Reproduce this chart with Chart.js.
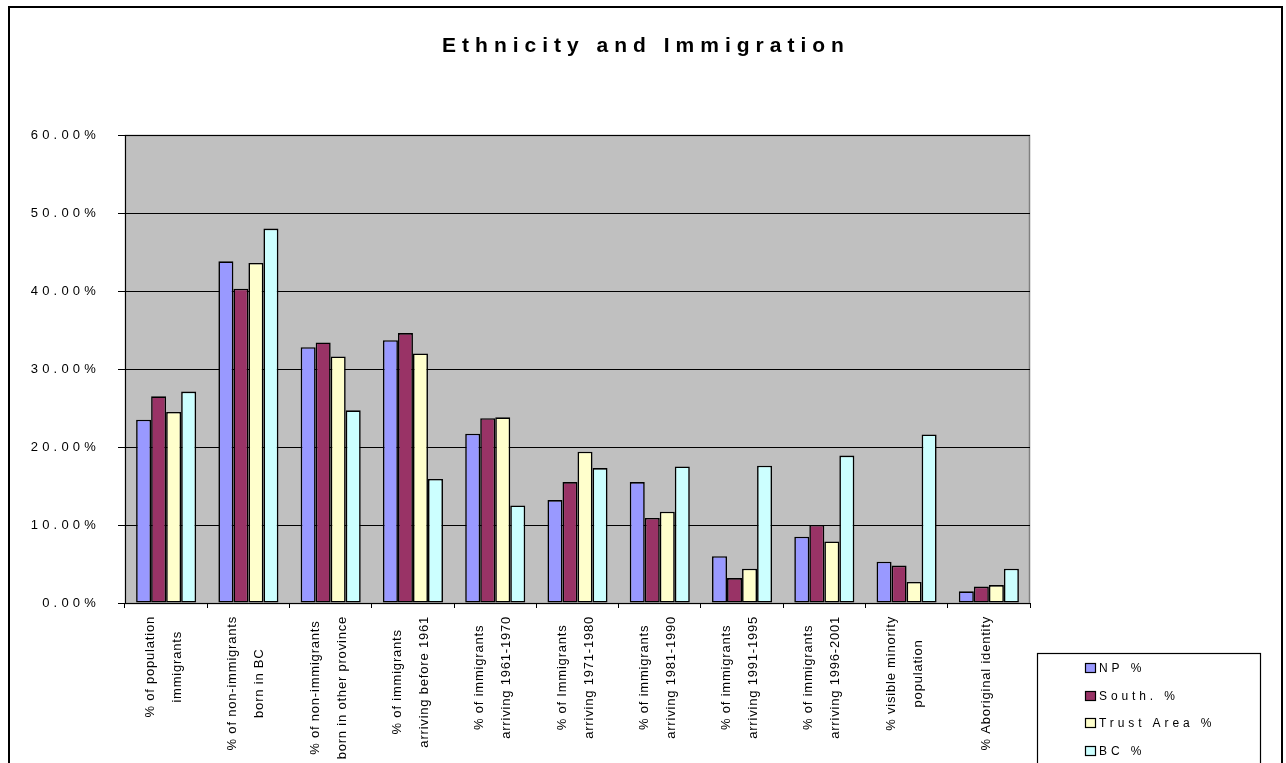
<!DOCTYPE html>
<html>
<head>
<meta charset="utf-8">
<title>Ethnicity and Immigration</title>
<script src="https://cdn.jsdelivr.net/npm/chart.js@4.4.1/dist/chart.umd.min.js"></script>
<style>
  html, body { margin: 0; padding: 0; background: #ffffff; }
  #wrap { width: 1286px; height: 763px; position: relative; }
</style>
</head>
<body>
<div id="wrap"><canvas id="chart"></canvas></div>
<script>
// ---- data ----
const chartTitle = 'Ethnicity and Immigration';

const categories = [
  ['% of population', 'immigrants'],
  ['% of non-immigrants', 'born in BC'],
  ['% of non-immigrants', 'born in other province'],
  ['% of immigrants', 'arriving before 1961'],
  ['% of immigrants', 'arriving 1961-1970'],
  ['% of Immigrants', 'arriving 1971-1980'],
  ['% of immigrants', 'arriving 1981-1990'],
  ['% of immigrants', 'arriving 1991-1995'],
  ['% of immigrants', 'arriving 1996-2001'],
  ['% visible minority', 'population'],
  ['% Aboriginal identity']
];

const seriesNames = ['NP %', 'South. %', 'Trust Area %', 'BC %'];

const npValues    = [23.5, 43.8, 32.8, 33.7, 21.7, 13.2, 15.5,  6.0,  8.5,  5.3, 1.5];
const southValues = [26.5, 40.3, 33.4, 34.6, 23.7, 15.5, 10.9,  3.2, 10.0,  4.8, 2.1];
const trustValues = [24.5, 43.6, 31.6, 32.0, 23.8, 19.4, 11.7,  4.4,  7.9,  2.7, 2.3];
const bcValues    = [27.1, 48.0, 24.7, 15.9, 12.5, 17.3, 17.5, 17.6, 18.9, 21.6, 4.4];

const yTickLabels = ['0.00%', '10.00%', '20.00%', '30.00%', '40.00%', '50.00%', '60.00%'];

// ---- styling ----
const FONT = "'Liberation Sans', Arial, Helvetica, sans-serif";
const seriesColors = ['#9999ff', '#993366', '#ffffcc', '#ccffff'];

// Background, frame, title, rotated category labels and the legend box
const chartDecor = {
  id: 'chartDecor',
  beforeDraw(chart) {
    const { ctx, chartArea: a } = chart;
    ctx.save();
    ctx.fillStyle = '#ffffff';
    ctx.fillRect(0, 0, chart.width, chart.height);
    ctx.fillStyle = '#c0c0c0';
    ctx.fillRect(a.left, a.top, a.right - a.left, a.bottom - a.top);
    ctx.strokeStyle = '#808080';
    ctx.lineWidth = 1.5;
    ctx.strokeRect(a.left + 0.5, a.top + 0.5, a.right - a.left - 1, a.bottom - a.top);
    ctx.restore();
    // spacing used by the value-axis labels
    ctx.letterSpacing = '4.2px';
  },
  afterDraw(chart) {
    const ctx = chart.ctx;
    ctx.save();

    // outer frame
    ctx.strokeStyle = '#000000';
    ctx.lineWidth = 2;
    ctx.strokeRect(9, 7, 1273, 800);

    // title
    ctx.fillStyle = '#000000';
    ctx.font = 'bold 21px ' + FONT;
    ctx.letterSpacing = '6px';
    ctx.textAlign = 'left';
    ctx.textBaseline = 'alphabetic';
    const tw = ctx.measureText(chartTitle).width - 6;
    ctx.fillText(chartTitle, chart.width / 2 - tw / 2, 52);

    // category labels, rotated, lines centred on each other
    const xs = chart.scales.x;
    ctx.font = '13px ' + FONT;
    ctx.letterSpacing = '0.8px';
    ctx.textAlign = 'center';
    ctx.textBaseline = 'middle';
    categories.forEach((lab, i) => {
      const lines = Array.isArray(lab) ? lab : [lab];
      const cx = xs.getPixelForValue(i) - 2;
      const maxW = Math.max(...lines.map(l => ctx.measureText(l).width));
      ctx.save();
      ctx.translate(cx, 616);
      ctx.rotate(-Math.PI / 2);
      lines.forEach((l, j) => {
        ctx.fillText(l, -maxW / 2, (j - (lines.length - 1) / 2) * 27);
      });
      ctx.restore();
    });

    // legend
    ctx.lineWidth = 1.2;
    ctx.strokeStyle = '#000000';
    ctx.strokeRect(1037.5, 653.5, 223, 200);
    ctx.font = '12px ' + FONT;
    ctx.letterSpacing = '3.9px';
    ctx.textAlign = 'left';
    ctx.textBaseline = 'middle';
    chart.data.datasets.forEach((ds, i) => {
      const y = Math.round(668 + i * 27.7);
      ctx.fillStyle = ds.backgroundColor;
      ctx.fillRect(1085.5, y - 4.5, 10, 9);
      ctx.strokeRect(1085.5, y - 4.5, 10, 9);
      ctx.fillStyle = '#000000';
      ctx.fillText(ds.label, 1099, y + 0.5);
    });

    ctx.restore();
  }
};

const valueLists = [npValues, southValues, trustValues, bcValues];

new Chart(document.getElementById('chart'), {
  type: 'bar',
  data: {
    labels: categories,
    datasets: seriesNames.map((name, i) => ({
      label: name,
      data: valueLists[i],
      backgroundColor: seriesColors[i],
      borderColor: '#000000',
      borderWidth: 1.6,
      borderSkipped: false,
      categoryPercentage: 0.73,
      barPercentage: 1.0
    }))
  },
  options: {
    responsive: true,
    maintainAspectRatio: false,
    animation: false,
    layout: { padding: { top: 135, right: 256, bottom: 0, left: 0 } },
    plugins: {
      legend: { display: false },
      title: { display: false },
      tooltip: { enabled: false }
    },
    scales: {
      x: {
        type: 'category',
        grid: { offset: true, drawOnChartArea: false, drawTicks: true, tickLength: 5, color: '#000000', lineWidth: 1 },
        border: { display: true, color: '#000000', width: 1 },
        ticks: { display: false },
        afterFit(scale) { scale.height = 160; }
      },
      y: {
        min: 0,
        max: 60,
        grid: { color: '#000000', lineWidth: 1, drawTicks: true, tickLength: 7 },
        border: { display: true, color: '#000000', width: 1 },
        ticks: {
          stepSize: 10,
          padding: 18,
          color: '#000000',
          font: { family: FONT, size: 13 },
          callback: (v, i) => yTickLabels[i]
        },
        afterFit(scale) { scale.width = 125; }
      }
    }
  },
  plugins: [chartDecor]
});
</script>
</body>
</html>
